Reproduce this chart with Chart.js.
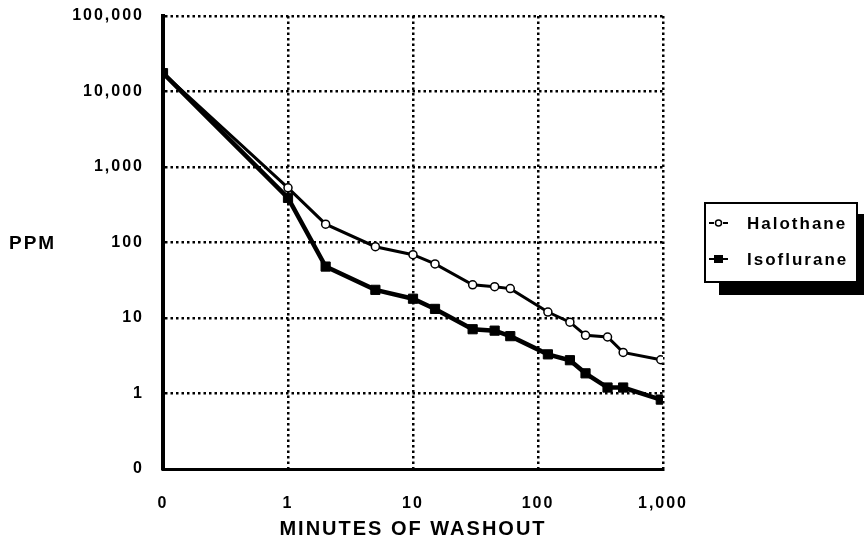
<!DOCTYPE html>
<html>
<head>
<meta charset="utf-8">
<script src="https://cdn.jsdelivr.net/npm/chart.js@4/dist/chart.umd.min.js"></script>
<style>
  html, body { margin: 0; padding: 0; background: #fff; }
  #wrap { width: 864px; height: 539px; }
</style>
</head>
<body>
<div id="wrap"><canvas id="myChart" width="864" height="539"></canvas></div>
<script>
// minutes of washout (0 is drawn at the bottom of the log axis, labelled "0")
const minutes = [0, 1, 2, 5, 10, 15, 30, 45, 60, 120, 180, 240, 360, 480, 960];
const halothane = [17500, 530, 175, 88, 69, 52, 27.5, 26, 24.5, 12, 8.8, 5.9, 5.6, 3.5, 2.8];
const isoflurane = [17500, 390, 48, 23.6, 18, 13.2, 7.1, 6.8, 5.75, 3.3, 2.76, 1.85, 1.2, 1.2, 0.83];

const xTickValues = [0.1, 1, 10, 100, 1000];
const xTickLabels = ["0", "1", "10", "100", "1,000"];
const yTickValues = [0.1, 1, 10, 100, 1000, 10000, 100000];
const yTickLabels = ["0", "1", "10", "100", "1,000", "10,000", "100,000"];

const FONT = "'Liberation Sans', Arial, sans-serif";

function toPoints(vals) {
  return minutes.map((m, i) => ({ x: m === 0 ? xTickValues[0] : m, y: vals[i] }));
}

// letter spacing like the original typeset labels
const spacingPlugin = {
  id: "spacing",
  beforeDraw(chart) {
    chart.ctx.letterSpacing = "2px";
  }
};

// PPM label and the boxed legend with drop shadow
const extrasPlugin = {
  id: "extras",
  afterDraw(chart) {
    const ctx = chart.ctx;
    ctx.save();
    ctx.letterSpacing = "2px";
    ctx.fillStyle = "#000";
    ctx.font = "bold 19px " + FONT;
    ctx.textAlign = "left";
    ctx.textBaseline = "middle";
    ctx.fillText("PPM", 9, 244);

    // legend box
    const bx = 705, by = 203, bw = 152, bh = 79;
    ctx.fillStyle = "#000";
    ctx.fillRect(bx + 14, by + bh, bw - 7, 13);
    ctx.fillRect(bx + bw, by + 11, 7, bh + 2);
    ctx.fillStyle = "#fff";
    ctx.fillRect(bx, by, bw, bh);
    ctx.strokeStyle = "#000";
    ctx.lineWidth = 2;
    ctx.strokeRect(bx, by, bw, bh);

    const rows = [223, 259];
    chart.data.datasets.forEach((ds, i) => {
      const y = rows[i];
      ctx.lineWidth = 2;
      ctx.strokeStyle = "#000";
      ctx.beginPath();
      ctx.moveTo(709, y); ctx.lineTo(714, y);
      ctx.moveTo(723, y); ctx.lineTo(728, y);
      ctx.stroke();
      if (ds.pointStyle === "circle") {
        ctx.fillStyle = "#fff";
        ctx.lineWidth = 1.5;
        ctx.beginPath();
        ctx.arc(718.5, y, 3, 0, Math.PI * 2);
        ctx.fill(); ctx.stroke();
      } else {
        ctx.fillStyle = "#000";
        ctx.fillRect(714, y - 4, 9, 8);
      }
      ctx.fillStyle = "#000";
      ctx.font = "bold 17px " + FONT;
      ctx.fillText(ds.label, 747, y + 1);
    });
    ctx.restore();
  }
};

const config = {
  type: "line",
  data: {
    datasets: [
      {
        label: "Halothane",
        data: toPoints(halothane),
        order: 1,
        borderColor: "#000",
        borderWidth: 3,
        pointStyle: "circle",
        pointRadius: 4,
        pointBorderWidth: 1.5,
        pointBackgroundColor: "#fff",
        pointBorderColor: "#000",
        tension: 0
      },
      {
        label: "Isoflurane",
        data: toPoints(isoflurane),
        order: 0,
        borderColor: "#000",
        borderWidth: 4.5,
        pointStyle: "rect",
        pointRadius: 6.5,
        pointBorderWidth: 1,
        pointBackgroundColor: "#000",
        pointBorderColor: "#000",
        tension: 0
      }
    ]
  },
  options: {
    responsive: false,
    animation: false,
    devicePixelRatio: 1,
    layout: { padding: { top: 16, right: 201, left: 0, bottom: 0 } },
    plugins: { legend: { display: false }, tooltip: { enabled: false } },
    scales: {
      x: {
        type: "logarithmic",
        min: 0.1,
        max: 1000,
        afterBuildTicks: (s) => { s.ticks = xTickValues.map(v => ({ value: v })); },
        afterFit: (s) => { s.height = 70; s.paddingLeft = 0; s.paddingRight = 0; },
        grid: { color: "#000", lineWidth: 2.5, drawTicks: false },
        border: { display: true, color: "#000", width: 3, dash: [2.5, 3] },
        ticks: {
          color: "#000",
          font: { family: FONT, size: 16, weight: "bold" },
          padding: 25,
          maxRotation: 0,
          autoSkip: false,
          callback: (v, i) => xTickLabels[i]
        },
        title: {
          display: true,
          text: "MINUTES OF WASHOUT",
          color: "#000",
          font: { family: FONT, size: 20, weight: "bold", lineHeight: 1 },
          padding: { top: 0, bottom: 0 }
        }
      },
      y: {
        type: "logarithmic",
        min: 0.1,
        max: 100000,
        afterBuildTicks: (s) => { s.ticks = yTickValues.map(v => ({ value: v })); },
        afterFit: (s) => { s.width = 163; s.paddingTop = 0; s.paddingBottom = 0; },
        grid: { color: "#000", lineWidth: 2.5, drawTicks: false },
        border: { display: true, color: "#000", width: 4, dash: [2.5, 3] },
        ticks: {
          color: "#000",
          font: { family: FONT, size: 16, weight: "bold" },
          padding: 19,
          autoSkip: false,
          callback: (v, i) => yTickLabels[i]
        }
      }
    }
  },
  plugins: [spacingPlugin, extrasPlugin]
};

new Chart(document.getElementById("myChart"), config);
</script>
</body>
</html>
